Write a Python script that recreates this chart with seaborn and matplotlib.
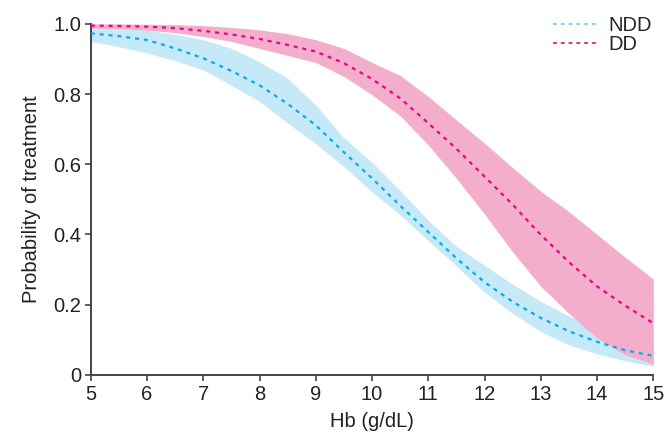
import numpy as np
import pandas as pd
import seaborn as sns
import matplotlib.pyplot as plt

# ---- Data ----
hb = [5, 5.5, 6, 6.5, 7, 7.5, 8, 8.5, 9, 9.5, 10, 10.5, 11, 11.5, 12, 12.5, 13, 13.5, 14, 14.5, 15]

ndd_mid = [0.973, 0.965, 0.954, 0.93, 0.902, 0.866, 0.825, 0.772, 0.711, 0.634, 0.56,
           0.482, 0.407, 0.332, 0.264, 0.208, 0.162, 0.124, 0.094, 0.07, 0.054]
ndd_hi = [0.988, 0.986, 0.982, 0.97, 0.955, 0.93, 0.892, 0.845, 0.768, 0.675, 0.605,
          0.525, 0.44, 0.366, 0.312, 0.258, 0.209, 0.168, 0.13, 0.108, 0.09]
ndd_lo = [0.95, 0.935, 0.917, 0.895, 0.869, 0.825, 0.779, 0.717, 0.658, 0.593, 0.521,
          0.456, 0.382, 0.31, 0.235, 0.175, 0.123, 0.085, 0.06, 0.04, 0.024]

dd_mid = [0.995, 0.994, 0.992, 0.988, 0.98, 0.97, 0.957, 0.94, 0.921, 0.888, 0.843,
          0.788, 0.717, 0.644, 0.565, 0.485, 0.399, 0.321, 0.252, 0.197, 0.147]
dd_hi = [1.0, 1.0, 0.999, 0.998, 0.995, 0.99, 0.983, 0.972, 0.955, 0.93, 0.89,
         0.853, 0.793, 0.726, 0.66, 0.59, 0.523, 0.465, 0.4, 0.335, 0.273]
dd_lo = [0.988, 0.986, 0.982, 0.975, 0.964, 0.95, 0.93, 0.91, 0.89, 0.85, 0.798,
         0.738, 0.655, 0.56, 0.458, 0.35, 0.252, 0.175, 0.105, 0.057, 0.03]

groups = ['NDD', 'DD']
line_colors = {'NDD': '#00AEEF', 'DD': '#EC008C'}
band_colors = {'NDD': '#C6E9F8', 'DD': '#F3AECB'}
legend_colors = {'NDD': '#86D3F2', 'DD': '#EC2C95'}

df = pd.concat([
    pd.DataFrame({'Hb': hb, 'p': ndd_mid, 'lo': ndd_lo, 'hi': ndd_hi, 'group': 'NDD'}),
    pd.DataFrame({'Hb': hb, 'p': dd_mid, 'lo': dd_lo, 'hi': dd_hi, 'group': 'DD'}),
])

# ---- Plot ----
sns.set_style('ticks')
plt.rcParams['font.family'] = ['Liberation Sans', 'DejaVu Sans']

fig = plt.figure(figsize=(6.68, 4.42), dpi=100)
ax = fig.add_axes([0.136, 0.152, 0.842, 0.794])

# bands first, pink drawn over blue
for g in groups:
    sub = df[df['group'] == g]
    ax.fill_between(sub['Hb'], sub['lo'], sub['hi'], color=band_colors[g], lw=0, zorder=1)

sns.lineplot(data=df, x='Hb', y='p', hue='group', hue_order=groups, palette=line_colors,
             ax=ax, lw=1.6, zorder=3, legend=False)
for line in ax.lines:
    line.set_dashes((1.8, 2.2))

ax.set_xlim(5, 15)
ax.set_ylim(0, 1)
ax.set_xticks(range(5, 16))
ax.set_yticks([0, 0.2, 0.4, 0.6, 0.8, 1.0])
ax.set_yticklabels(['0', '0.2', '0.4', '0.6', '0.8', '1.0'])
ax.tick_params(labelsize=14.5, length=4, width=1.2, color='#444444', labelcolor='#222222', pad=3)
for s in ['left', 'bottom']:
    ax.spines[s].set_color('#444444')
    ax.spines[s].set_linewidth(1.4)
sns.despine(ax=ax)

ax.set_xlabel('Hb (g/dL)', fontsize=14.5, color='#222222', labelpad=6)
ax.set_ylabel('Probability of treatment', fontsize=14.5, color='#222222', labelpad=9)

handles = [plt.Line2D([], [], color=legend_colors[g], lw=1.4, dashes=(2.0, 2.0)) for g in groups]
ax.legend(handles, groups, loc='upper right', bbox_to_anchor=(1.012, 1.045), frameon=False,
          fontsize=14.5, handlelength=2.2, handletextpad=0.55, labelspacing=0.0, borderaxespad=0)

fig.savefig('out.png', dpi=100)
